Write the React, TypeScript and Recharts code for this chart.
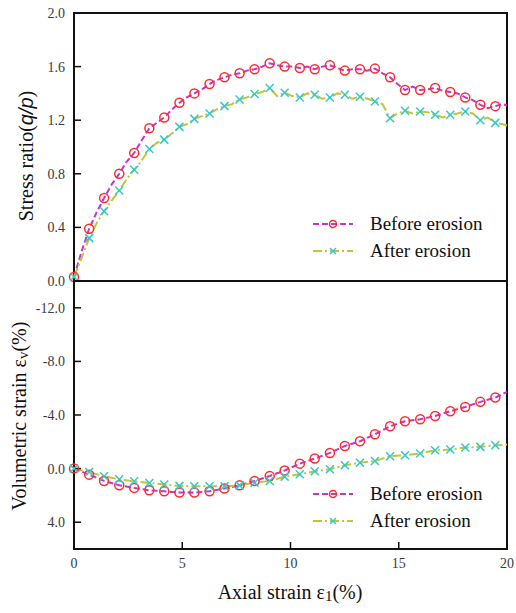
import React from "react";
import { ComposedChart, Line, XAxis, YAxis, ReferenceArea, Legend } from "recharts";

// axial strain at the marker positions, and halfway between them
const markerStrain = [
  0, 0.7, 1.39, 2.09, 2.78, 3.48, 4.17, 4.87, 5.56, 6.26, 6.95, 7.65, 8.34, 9.04, 9.73,
  10.43, 11.12, 11.82, 12.51, 13.21, 13.9, 14.6, 15.29, 15.99, 16.68, 17.38, 18.07, 18.77, 19.46,
];
const midStrain = [
  0.35, 1.04, 1.74, 2.43, 3.13, 3.82, 4.52, 5.21, 5.91, 6.6, 7.3, 7.99, 8.69, 9.38, 10.08,
  10.77, 11.47, 12.16, 12.86, 13.55, 14.25, 14.94, 15.64, 16.33, 17.03, 17.72, 18.42, 19.11, 19.81,
];
const endStrain = 20;

// stress ratio q/p
const ratioBefore = [
  0.03, 0.39, 0.62, 0.8, 0.955, 1.14, 1.22, 1.33, 1.4, 1.47, 1.52, 1.55, 1.58, 1.625, 1.6,
  1.59, 1.58, 1.61, 1.57, 1.58, 1.585, 1.52, 1.425, 1.425, 1.44, 1.41, 1.37, 1.315, 1.305,
];
const ratioBeforeMid = [
  0.22, 0.51, 0.72, 0.89, 1.05, 1.18, 1.28, 1.37, 1.43, 1.5, 1.54, 1.57, 1.6, 1.61, 1.6,
  1.6, 1.6, 1.59, 1.58, 1.57, 1.55, 1.47, 1.45, 1.43, 1.42, 1.4, 1.35, 1.29, 1.32,
];
const ratioBeforeEnd = 1.31;
const ratioAfter = [
  0.03, 0.32, 0.52, 0.675, 0.83, 0.985, 1.055, 1.15, 1.21, 1.25, 1.305, 1.355, 1.395, 1.44, 1.405,
  1.37, 1.39, 1.37, 1.39, 1.375, 1.34, 1.215, 1.27, 1.265, 1.24, 1.24, 1.265, 1.2, 1.18,
];
const ratioAfterMid = [
  0.17, 0.43, 0.6, 0.76, 0.9, 1.03, 1.1, 1.17, 1.23, 1.28, 1.32, 1.37, 1.41, 1.38, 1.38,
  1.4, 1.36, 1.4, 1.36, 1.36, 1.32, 1.25, 1.25, 1.26, 1.22, 1.25, 1.25, 1.22, 1.17,
];
const ratioAfterEnd = 1.16;

// volumetric strain (%)
const volBefore = [
  0, 0.45, 0.92, 1.24, 1.44, 1.62, 1.69, 1.79, 1.79, 1.69, 1.49, 1.25, 0.92, 0.55, 0.14,
  -0.37, -0.75, -1.17, -1.69, -2.04, -2.56, -3.16, -3.53, -3.68, -3.93, -4.28, -4.6, -4.98, -5.3,
];
const volBeforeEnd = -5.72;
const volAfter = [
  0, 0.25, 0.57, 0.8, 0.95, 1.07, 1.19, 1.29, 1.32, 1.32, 1.32, 1.25, 1.05, 0.92, 0.6,
  0.42, 0.2, 0.05, -0.25, -0.43, -0.57, -0.92, -1.0, -1.12, -1.37, -1.42, -1.57, -1.62, -1.74,
];
const volAfterEnd = -1.79;

const xTicks = [0, 5, 10, 15, 20];
const ratioTicks = [0, 0.4, 0.8, 1.2, 1.6, 2.0];
const volTicks = [-12, -8, -4, 0, 4];

const SERIF = "Liberation Serif, Times New Roman, serif";
const BEFORE_LINE = "#c433d4";
const BEFORE_MARK = "#ff2b2b";
const AFTER_LINE = "#c4c43a";
const AFTER_MARK = "#33c8cc";

type Row = { x: number; y: number; mark: boolean };

function buildSeries(marks: number[], mids: number[] | null, end: number): Row[] {
  const rows: Row[] = [];
  markerStrain.forEach((x, i) => {
    rows.push({ x, y: marks[i], mark: true });
    if (mids) rows.push({ x: midStrain[i], y: mids[i], mark: false });
  });
  rows.push({ x: endStrain, y: end, mark: false });
  return rows;
}

const Circle = ({ cx, cy, r = 4.5 }: any) => (
  <circle cx={cx} cy={cy} r={r} fill="none" stroke={BEFORE_MARK} strokeWidth={1.5} />
);
const Cross = ({ cx, cy, s = 4 }: any) => (
  <g stroke={AFTER_MARK} strokeWidth={1.5}>
    <line x1={cx - s} y1={cy - s} x2={cx + s} y2={cy + s} />
    <line x1={cx - s} y1={cy + s} x2={cx + s} y2={cy - s} />
  </g>
);

// only draw a marker on the sampled points
const markerDot = (kind: "circle" | "cross") => (props: any) => {
  const { cx, cy, payload, index } = props;
  if (!payload?.mark || cx == null || cy == null) return <g key={`n${index}`} />;
  return kind === "circle" ? <Circle key={`c${index}`} cx={cx} cy={cy} /> : <Cross key={`x${index}`} cx={cx} cy={cy} />;
};

const legendItems = [
  { label: "Before erosion", color: BEFORE_LINE, dash: "6 3", kind: "circle" },
  { label: "After erosion", color: AFTER_LINE, dash: "9 3 2 3", kind: "cross" },
];

function LegendBox() {
  return (
    <div style={{ fontFamily: SERIF, fontSize: 19, color: "#111" }}>
      {legendItems.map((it) => (
        <div key={it.label} style={{ display: "flex", alignItems: "center", height: 27.5 }}>
          <svg width={40} height={12}>
            <line x1={0} y1={6} x2={40} y2={6} stroke={it.color} strokeWidth={2} strokeDasharray={it.dash} />
            {it.kind === "circle" ? <Circle cx={20} cy={6} r={3.5} /> : <Cross cx={20} cy={6} s={3} />}
          </svg>
          <span style={{ marginLeft: 17 }}>{it.label}</span>
        </div>
      ))}
    </div>
  );
}

const tickStyle = { fontSize: 14, fontFamily: SERIF, fill: "#3a3a3a" };

export default function App() {
  const topBefore = buildSeries(ratioBefore, ratioBeforeMid, ratioBeforeEnd);
  const topAfter = buildSeries(ratioAfter, ratioAfterMid, ratioAfterEnd);
  const botBefore = buildSeries(volBefore, null, volBeforeEnd);
  const botAfter = buildSeries(volAfter, null, volAfterEnd);

  return (
    <div style={{ position: "absolute", left: 0, top: 0, width: 516, height: 613, background: "#fff" }}>
      <div style={{ position: "absolute", left: 0, top: 0 }}>
        <ComposedChart width={516} height={290} margin={{ top: 13, right: 9, bottom: 9, left: 0 }}>
          <XAxis dataKey="x" type="number" domain={[0, 20]} ticks={xTicks} hide />
          <YAxis
            type="number"
            domain={[0, 2]}
            ticks={ratioTicks}
            width={74}
            axisLine={false}
            tickSize={-7}
            tickMargin={16}
            tickLine={{ stroke: "#111", strokeWidth: 1.5 }}
            tick={tickStyle}
            tickFormatter={(v: number) => v.toFixed(1)}
            label={{
              content: () => (
                <text
                  x={26}
                  y={156}
                  transform="rotate(-90, 26, 156)"
                  textAnchor="middle"
                  dominantBaseline="central"
                  fontFamily={SERIF}
                  fontSize={20}
                  fill="#111"
                >
                  Stress ratio(
                  <tspan fontFamily="Liberation Sans, Arial, sans-serif" fontStyle="italic">q/p</tspan>)
                </text>
              ),
            }}
          />
          <ReferenceArea x1={0} x2={20} y1={0} y2={2} fill="none" stroke="#111" strokeWidth={2} />
          <Line
            data={topBefore}
            dataKey="y"
            stroke={BEFORE_LINE}
            strokeWidth={2}
            strokeDasharray="6 3"
            dot={markerDot("circle")}
            activeDot={false}
            isAnimationActive={false}
          />
          <Line
            data={topAfter}
            dataKey="y"
            stroke={AFTER_LINE}
            strokeWidth={2}
            strokeDasharray="9 3 2 3"
            dot={markerDot("cross")}
            activeDot={false}
            isAnimationActive={false}
          />
          <Legend
            layout="horizontal"
            verticalAlign="middle"
            content={() => <LegendBox />}
            wrapperStyle={{ left: 313, top: 210, width: "auto" }}
          />
        </ComposedChart>
      </div>

      <div style={{ position: "absolute", left: 0, top: 272 }}>
        <ComposedChart width={516} height={341} margin={{ top: 9, right: 9, bottom: 0, left: 0 }}>
          <XAxis
            dataKey="x"
            type="number"
            domain={[0, 20]}
            ticks={xTicks}
            height={64}
            axisLine={false}
            tickSize={-7}
            tickMargin={16}
            tickLine={{ stroke: "#111", strokeWidth: 1.5 }}
            tick={tickStyle}
            label={{
              content: () => (
                <text
                  x={290}
                  y={320}
                  textAnchor="middle"
                  dominantBaseline="central"
                  fontFamily={SERIF}
                  fontSize={20}
                  fill="#111"
                >
                  Axial strain ε
                  <tspan fontSize={15} dy={4}>1</tspan>
                  <tspan dy={-4}>(%)</tspan>
                </text>
              ),
            }}
          />
          <YAxis
            type="number"
            domain={[-14, 6]}
            reversed
            ticks={volTicks}
            width={74}
            axisLine={false}
            tickSize={-7}
            tickMargin={16}
            tickLine={{ stroke: "#111", strokeWidth: 1.5 }}
            tick={tickStyle}
            tickFormatter={(v: number) => v.toFixed(1)}
            label={{
              content: () => (
                <text
                  x={19}
                  y={144}
                  transform="rotate(-90, 19, 144)"
                  textAnchor="middle"
                  dominantBaseline="central"
                  fontFamily={SERIF}
                  fontSize={20}
                  fill="#111"
                >
                  Volumetric strain ε
                  <tspan fontSize={15} dy={4}>v</tspan>
                  <tspan dy={-4}>(%)</tspan>
                </text>
              ),
            }}
          />
          <ReferenceArea x1={0} x2={20} y1={-14} y2={6} fill="none" stroke="#111" strokeWidth={2} />
          <Line
            data={botBefore}
            dataKey="y"
            stroke={BEFORE_LINE}
            strokeWidth={2}
            strokeDasharray="6 3"
            dot={markerDot("circle")}
            activeDot={false}
            isAnimationActive={false}
          />
          <Line
            data={botAfter}
            dataKey="y"
            stroke={AFTER_LINE}
            strokeWidth={2}
            strokeDasharray="9 3 2 3"
            dot={markerDot("cross")}
            activeDot={false}
            isAnimationActive={false}
          />
          <Legend
            layout="horizontal"
            verticalAlign="middle"
            content={() => <LegendBox />}
            wrapperStyle={{ left: 313, top: 208, width: "auto" }}
          />
        </ComposedChart>
      </div>
    </div>
  );
}
